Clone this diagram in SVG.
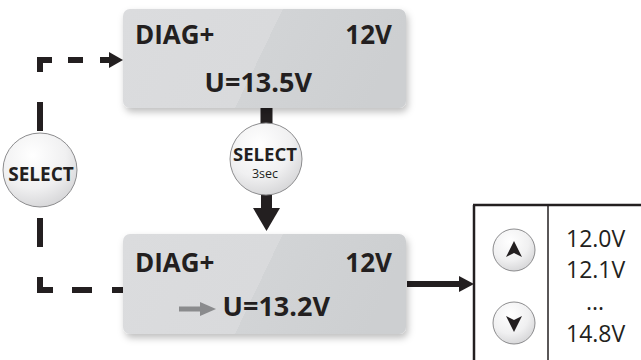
<svg xmlns="http://www.w3.org/2000/svg" width="641" height="360" viewBox="0 0 641 360">
<style>
.lbl{font-family:"Open Sans","Liberation Sans",sans-serif;font-weight:700;fill:#231f20}
.val{font-family:"Open Sans","Liberation Sans",sans-serif;font-weight:400;fill:#231f20;font-size:23px}
.box{fill:url(#boxg);filter:url(#sh)}
.btn{fill:url(#btng);stroke:#8c8c8e;stroke-width:1}
.ln{stroke:#231f20;fill:none}
.dash{stroke:#231f20;stroke-width:6;fill:none;stroke-linecap:butt}
.hd{fill:#231f20}
</style>
<defs>
<linearGradient id="boxg" x1="0" y1="0" x2="1" y2="0.169">
<stop offset="0" stop-color="#dbdcde"/>
<stop offset="0.549" stop-color="#d9dadc"/>
<stop offset="0.549" stop-color="#d2d4d6"/>
<stop offset="1" stop-color="#cdcfd1"/>
</linearGradient>
<radialGradient id="btng" cx="0.4" cy="0.3" r="0.75">
<stop offset="0" stop-color="#ffffff"/>
<stop offset="0.6" stop-color="#f0f0f1"/>
<stop offset="1" stop-color="#d4d4d6"/>
</radialGradient>
<filter id="sh" x="-10%" y="-10%" width="125%" height="135%">
<feDropShadow dx="2" dy="4" stdDeviation="3.5" flood-color="#000" flood-opacity="0.25"/>
</filter>
</defs>

<g id="connectors">
<polyline class="dash" points="40,72 40,60 52,60" stroke-linejoin="miter"/>
<line class="dash" x1="68" y1="60" x2="83" y2="60"/>
<line class="dash" x1="100" y1="60" x2="111" y2="60"/>
<polygon class="hd" points="109,52 123,60 109,68"/>
<line class="dash" x1="40" y1="102" x2="40" y2="131"/>
<line class="dash" x1="40" y1="218" x2="40" y2="247"/>
<polyline class="dash" points="40,277 40,290 53,290" stroke-linejoin="miter"/>
<line class="dash" x1="72" y1="290" x2="92" y2="290"/>
<line class="dash" x1="112" y1="290" x2="123" y2="290"/>
<line class="ln" x1="266.5" y1="108" x2="266.5" y2="124" stroke-width="12"/>
<line class="ln" x1="266.5" y1="194" x2="266.5" y2="210" stroke-width="11"/>
<polygon class="hd" points="253,208 280,208 266.5,231"/>
<line class="ln" x1="407" y1="284" x2="462" y2="284" stroke-width="6"/>
<polygon class="hd" points="459,276 474,284 459,292"/>
</g>

<g id="box-top">
<rect class="box" x="123" y="9" width="283" height="99" rx="7"/>
<text class="lbl" x="135" y="44" font-size="26">DIAG+</text>
<text class="lbl" x="392" y="44" font-size="26" text-anchor="end">12V</text>
<text class="lbl" x="312" y="92" font-size="27" text-anchor="end">U=13.5V</text>
</g>

<g id="box-bottom">
<rect class="box" x="123" y="234" width="283" height="100" rx="7"/>
<text class="lbl" x="135" y="272" font-size="26">DIAG+</text>
<text class="lbl" x="392" y="272" font-size="26" text-anchor="end">12V</text>
<line x1="179" y1="309" x2="202" y2="309" stroke="#8a8b8d" stroke-width="5"/>
<polygon points="200,302 216,309 200,316" fill="#8a8b8d"/>
<text class="lbl" x="330" y="316" font-size="27" text-anchor="end">U=13.2V</text>
</g>

<g id="select-left">
<circle class="btn" cx="40" cy="170" r="37"/>
<text class="lbl" x="41" y="181" font-size="19" text-anchor="middle">SELECT</text>
</g>

<g id="select-3sec">
<circle class="btn" cx="266" cy="159" r="36"/>
<text class="lbl" x="265" y="160.5" font-size="18.5" text-anchor="middle">SELECT</text>
<text class="val" x="265" y="178" style="font-size:12.5px" text-anchor="middle">3sec</text>
</g>

<g id="panel">
<line class="ln" x1="474" y1="205" x2="474" y2="360" stroke-width="2.5"/>
<line class="ln" x1="473" y1="205" x2="641" y2="205" stroke-width="2.5"/>
<line class="ln" x1="548" y1="205" x2="548" y2="360" stroke-width="1.5"/>
<circle class="btn" cx="514" cy="250" r="21"/>
<polygon class="hd" points="514,241 522,257 514,253 506,257"/>
<circle class="btn" cx="514" cy="323" r="21"/>
<polygon class="hd" points="514,332 522,316 514,320 506,316"/>
<text class="val" x="566" y="247">12.0V</text>
<text class="val" x="566" y="278">12.1V</text>
<text class="val" x="595" y="310" text-anchor="middle">...</text>
<text class="val" x="566" y="342">14.8V</text>
</g>
</svg>
